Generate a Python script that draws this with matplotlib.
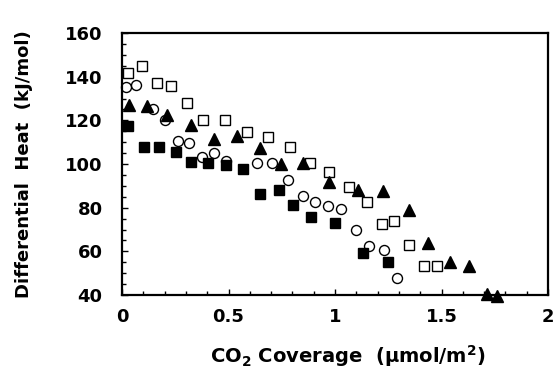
import matplotlib
matplotlib.use("Agg")
import matplotlib.pyplot as plt
from matplotlib.ticker import MultipleLocator

plt.rcParams['font.family'] = ['DejaVu Sans']
plt.rcParams['font.weight'] = 'bold'
plt.rcParams['mathtext.fontset'] = 'custom'
plt.rcParams['mathtext.rm'] = 'DejaVu Sans:bold'
plt.rcParams['mathtext.bf'] = 'DejaVu Sans:bold'
plt.rcParams['mathtext.it'] = 'DejaVu Sans:bold'

# open squares
osq_x = [0.03, 0.092, 0.163, 0.23, 0.304, 0.382, 0.484, 0.585, 0.687, 0.789, 0.883, 0.973,
         1.067, 1.149, 1.219, 1.277, 1.349, 1.419, 1.48]
osq_y = [141.5, 144.9, 137.0, 135.7, 127.8, 120.1, 120.1, 114.8, 112.2, 107.9, 100.6, 96.5,
         89.3, 82.4, 72.5, 74.0, 62.9, 53.3, 53.3]
# open circles
oc_x = [0.019, 0.066, 0.147, 0.2, 0.264, 0.315, 0.374, 0.433, 0.49, 0.632, 0.706, 0.778,
        0.848, 0.906, 0.966, 1.027, 1.099, 1.16, 1.23, 1.29]
oc_y = [135.1, 136.3, 125.0, 120.1, 110.7, 109.8, 103.1, 104.9, 101.4, 100.3, 100.3, 92.7,
        85.3, 82.4, 80.8, 79.2, 69.8, 62.6, 60.6, 47.9]
# filled triangles
tri_x = [0.034, 0.116, 0.21, 0.322, 0.433, 0.541, 0.648, 0.745, 0.848, 0.973, 1.106, 1.227,
         1.349, 1.438, 1.54, 1.63, 1.712, 1.762]
tri_y = [127.0, 126.6, 122.4, 117.9, 111.3, 112.8, 107.2, 100.0, 100.6, 91.6, 88.1, 87.6,
         78.9, 64.0, 55.2, 53.4, 40.4, 39.5]
# filled squares
fsq_x = [0.03, 0.103, 0.174, 0.254, 0.324, 0.405, 0.487, 0.566, 0.648, 0.737, 0.804, 0.887,
         1.0, 1.13, 1.25]
fsq_y = [117.4, 107.9, 107.9, 105.3, 100.8, 100.3, 99.5, 97.7, 86.2, 88.1, 81.2, 75.6,
         73.1, 59.1, 55.0]

xticks = [0, 0.5, 1, 1.5, 2]
xtick_labels = ["0", "0.5", "1", "1.5", "2"]
yticks = [40, 60, 80, 100, 120, 140, 160]

fig = plt.figure(figsize=(5.55, 3.71), dpi=100)
ax = fig.add_axes([122/555, 1 - 295/371, (548-122)/555, (295-33)/371])

ax.plot(osq_x, osq_y, 's', ms=7.2, mfc='white', mec='black', mew=1.0, clip_on=False)
ax.plot(oc_x, oc_y, 'o', ms=7.2, mfc='white', mec='black', mew=1.0, clip_on=False)
ax.plot(tri_x, tri_y, '^', ms=8, mfc='black', mec='black', clip_on=False)
ax.plot(fsq_x, fsq_y, 's', ms=7.8, mfc='black', mec='black', clip_on=False)

ax.set_xlim(0, 2)
ax.set_ylim(40, 160)
ax.set_xticks(xticks)
ax.set_xticklabels(xtick_labels)
ax.set_yticks(yticks)
ax.xaxis.set_minor_locator(MultipleLocator(0.1))
ax.yaxis.set_minor_locator(MultipleLocator(5))
ax.tick_params(which='both', direction='in', top=False, right=False, width=1.0)
ax.tick_params(which='major', length=4, labelsize=13)
ax.tick_params(which='minor', length=3)
ax.tick_params(axis='x', which='major', pad=9)
ax.tick_params(axis='y', which='major', pad=14)
for lab in ax.get_xticklabels() + ax.get_yticklabels():
    lab.set_fontweight('bold')
for s in ax.spines.values():
    s.set_linewidth(1.6)

ax.set_ylabel("Differential  Heat  (kJ/mol)", fontsize=13, fontweight='bold')
ax.set_xlabel("CO$_2$ Coverage  (μmol/m$^2$)", fontsize=14, fontweight='bold')
ax.yaxis.set_label_coords(-0.21, 0.5)
ax.xaxis.set_label_coords(0.53, -0.185)

fig.savefig("out.png", dpi=100)
